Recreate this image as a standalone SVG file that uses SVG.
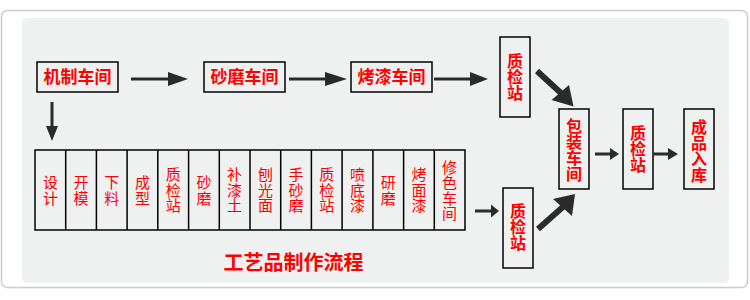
<svg xmlns="http://www.w3.org/2000/svg" width="750" height="300" viewBox="0 0 750 300">
<style>
.box{fill:none;stroke:#000;stroke-width:1.5}
.t{font-family:"Noto Sans CJK SC","Liberation Sans",sans-serif;fill:#ff0000;text-anchor:middle}
.v{writing-mode:vertical-rl;text-orientation:upright}
.tb{font-size:17px;font-weight:bold}
.tv{font-size:16px;font-weight:bold}
.tc{font-size:15px;letter-spacing:0.5px}
.ttl{font-size:20px;font-weight:bold}
.ln{stroke:#2b2b2b;stroke-width:3;fill:none}
.lnw{stroke:#2b2b2b;stroke-width:6;fill:none}
.hd{fill:#2b2b2b}
</style>
<rect x="1.5" y="10.5" width="746" height="277" rx="6" fill="#fff" stroke="#ccc" stroke-width="1.5"/>
<rect x="22" y="18" width="707" height="265" rx="5" fill="#eff0f0"/>

<g id="n-jizhi"><rect class="box" x="37" y="62" width="81" height="30"/><text class="t tb" x="77.5" y="83">机制车间</text></g>
<g id="n-shamo"><rect class="box" x="204" y="62" width="81" height="30"/><text class="t tb" x="244.5" y="83">砂磨车间</text></g>
<g id="n-kaoqi"><rect class="box" x="351" y="62" width="81" height="30"/><text class="t tb" x="391.5" y="83">烤漆车间</text></g>
<g id="n-zj1"><rect class="box" x="500" y="37" width="30" height="80"/><text class="t tv v" x="515" y="76.5">质检站</text></g>
<g id="n-baozhuang"><rect class="box" x="559" y="109" width="30" height="80"/><text class="t tv v" x="574" y="150">包装车间</text></g>
<g id="n-zj2"><rect class="box" x="623" y="109" width="30" height="80"/><text class="t tv v" x="638" y="149">质检站</text></g>
<g id="n-chengpin"><rect class="box" x="684" y="109" width="30" height="80"/><text class="t tv v" x="699" y="151">成品入库</text></g>
<g id="n-zj3"><rect class="box" x="503" y="188" width="30" height="80"/><text class="t tv v" x="518" y="226.5">质检站</text></g>

<g id="n-steps">
<rect class="box" x="35" y="150" width="430" height="80"/>
<path class="box" d="M65.7 150V230M96.4 150V230M127.1 150V230M157.8 150V230M188.6 150V230M219.3 150V230M250 150V230M280.7 150V230M311.4 150V230M342.1 150V230M372.9 150V230M403.6 150V230M434.3 150V230"/>
<text class="t tc v" x="50.4" y="190.5">设计</text>
<text class="t tc v" x="81.1" y="190.5">开模</text>
<text class="t tc v" x="111.8" y="190.5">下料</text>
<text class="t tc v" x="142.5" y="190.5">成型</text>
<text class="t tc v" x="173.2" y="190.5">质检站</text>
<text class="t tc v" x="203.9" y="190.5">砂磨</text>
<text class="t tc v" x="234.6" y="190.5">补漆土</text>
<text class="t tc v" x="265.4" y="190.5">刨光面</text>
<text class="t tc v" x="296.1" y="190.5">手砂磨</text>
<text class="t tc v" x="326.8" y="190.5">质检站</text>
<text class="t tc v" x="357.5" y="190.5">喷底漆</text>
<text class="t tc v" x="388.2" y="190.5">研磨</text>
<text class="t tc v" x="418.9" y="190.5">烤面漆</text>
<text class="t tc v" x="449.6" y="190.5">修色车间</text>
</g>

<g id="connectors">
<line class="ln" x1="131" y1="79" x2="170" y2="79"/><polygon class="hd" points="168,72 188,79 168,86"/>
<line class="ln" x1="289" y1="79" x2="327" y2="79"/><polygon class="hd" points="325,72 347,79 325,86"/>
<line class="ln" x1="434" y1="79" x2="472" y2="79"/><polygon class="hd" points="470,72 488,79 470,86"/>
<line class="ln" x1="52" y1="102" x2="52" y2="128"/><polygon class="hd" points="46,126 52,141 58,126"/>
<line class="lnw" x1="537" y1="71" x2="562" y2="94"/><polygon class="hd" points="551.5,100 573.5,106.5 569,85"/>
<line class="lnw" x1="538" y1="229" x2="564" y2="206"/><polygon class="hd" points="553,199 575,194 572,216"/>
<line class="ln" x1="475" y1="211" x2="493" y2="211"/><polygon class="hd" points="491,204.5 499,211 491,217.5"/>
<line class="ln" x1="595" y1="154" x2="612" y2="154"/><polygon class="hd" points="610,148 619,154 610,160"/>
<line class="ln" x1="653" y1="154" x2="670" y2="154"/><polygon class="hd" points="668,148 678,154 668,160"/>
</g>

<text class="t ttl" x="293.5" y="270">工艺品制作流程</text>
</svg>
